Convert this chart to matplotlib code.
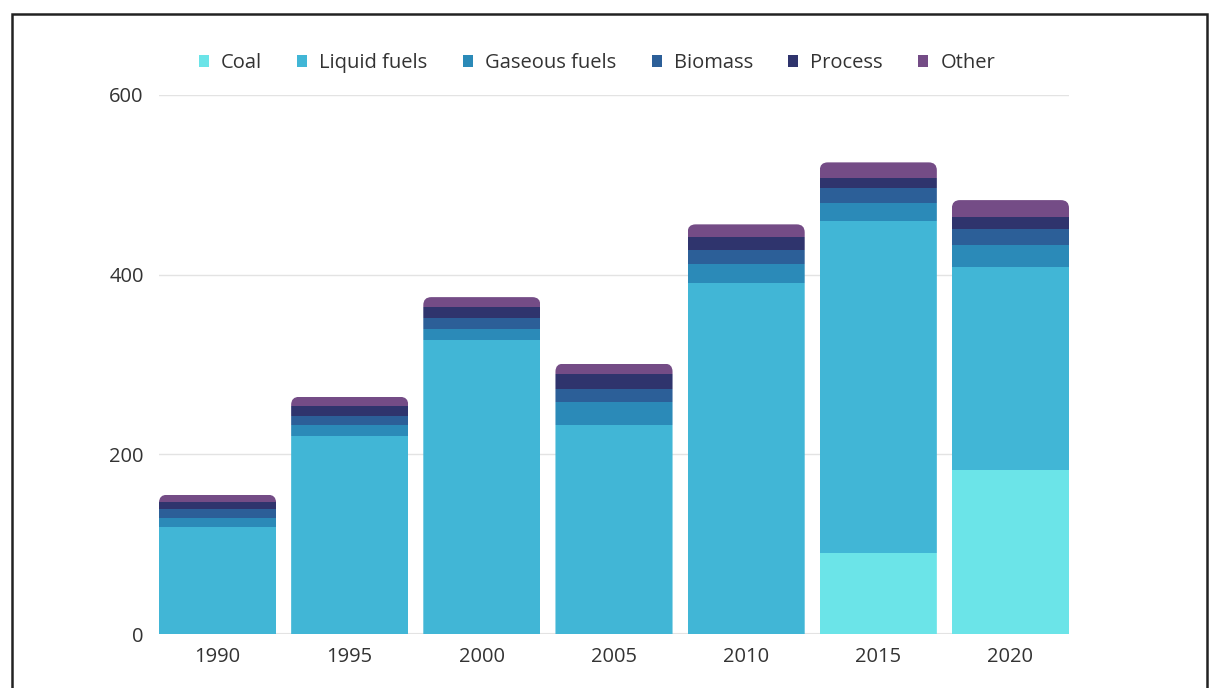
import matplotlib
matplotlib.use("Agg")
import matplotlib.pyplot as plt
from matplotlib.patches import FancyBboxPatch, Rectangle, Patch
import numpy as np

years = ["1990", "1995", "2000", "2005", "2010", "2015", "2020"]
coal = [0, 0, 0, 0, 0, 90, 183]
liquid = [119, 220, 327, 233, 391, 370, 226]
gaseous = [10, 13, 13, 25, 21, 20, 24]
biomass = [10, 10, 12, 15, 15, 16, 18]
process = [8, 11, 12, 16, 15, 12, 13]
other = [8, 10, 11, 12, 14, 17, 19]

series_names = ["Coal", "Liquid fuels", "Gaseous fuels", "Biomass", "Process", "Other"]
series_vals = [coal, liquid, gaseous, biomass, process, other]
colors = ["#6BE4E8", "#41B6D6", "#2B8AB8", "#2C5F98", "#2F346D", "#744C86"]
yticks = [0, 200, 400, 600]

plt.rcParams['font.family'] = ['Open Sans', 'DejaVu Sans']

fig = plt.figure(figsize=(12.11, 6.88), dpi=100)
ax = fig.add_axes([159/1211, 1-634/688, (1069-159)/1211, (634-95)/688])

x = np.arange(len(years))
width = 0.886
ax.set_xlim(-0.443, len(years) - 1 + 0.443)
ax.set_ylim(0, 600)

totals = np.sum(np.array(series_vals), axis=0)
# rounded-top clip paths
px_per_x = (1069-159) / (len(years) - 1 + 0.886)
px_per_y = (634-95) / 600
r_px = 8
r_x = r_px / px_per_x
aspect = (1/px_per_y) / (1/px_per_x)
clips = []
for i in range(len(years)):
    cp = FancyBboxPatch((x[i]-width/2, -60), width, totals[i] + 60,
                        boxstyle=f"round,pad=0,rounding_size={r_x}",
                        mutation_aspect=aspect, transform=ax.transData,
                        facecolor='none', edgecolor='none')
    clips.append(cp)

bottom = np.zeros(len(years))
for name, vals, c in zip(series_names, series_vals, colors):
    bars = ax.bar(x, vals, width=width, bottom=bottom, color=c, label=name, zorder=3, linewidth=0)
    for i, b in enumerate(bars):
        b.set_clip_path(clips[i])
    bottom += np.array(vals)

ax.set_yticks(yticks)
ax.set_xticks(x)
ax.set_xticklabels(years)
ax.grid(axis='y', color='#e3e3e3', linewidth=1, zorder=0)
ax.axhline(0, color='#e3e3e3', linewidth=1.5, zorder=2)
for s in ax.spines.values():
    s.set_visible(False)
ax.tick_params(axis='both', length=0, labelsize=14.5, colors='#333333')
ax.tick_params(axis='y', pad=11)
ax.tick_params(axis='x', pad=9.5)

handles = [Patch(facecolor=c, edgecolor='none') for c in colors]
fig.legend(handles, series_names, loc='center', bbox_to_anchor=(597/1211, 1-63/688),
           ncol=6, frameon=False, fontsize=14.5, handlelength=0.5, handleheight=0.5,
           handletextpad=0.6, columnspacing=1.75, labelcolor='#333333')

fig.patches.append(Rectangle((12/1211, -0.05), (1207-12)/1211, 1.05 - 14/688 + 0.0,
                             transform=fig.transFigure, fill=False, edgecolor='#222222',
                             linewidth=1.8, clip_on=False))

fig.savefig("out.png", dpi=100)
